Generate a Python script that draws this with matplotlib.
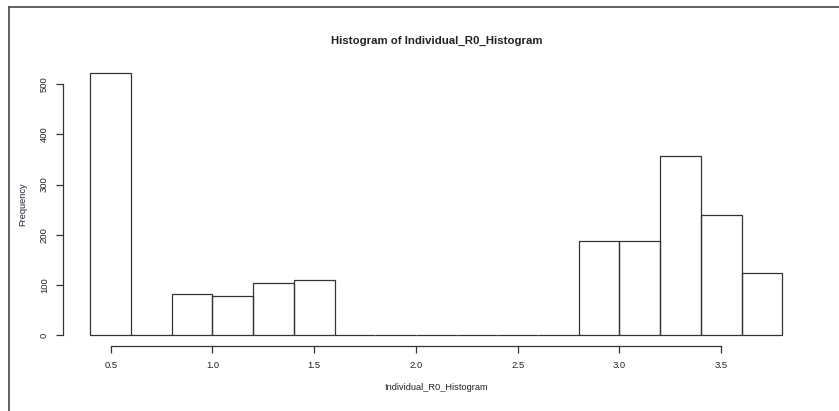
import numpy as np
import matplotlib
matplotlib.use('Agg')
import matplotlib.pyplot as plt
from matplotlib.lines import Line2D

plt.rcParams['font.family'] = ['Liberation Sans', 'DejaVu Sans']

# Histogram data (bin edges, counts)
bin_edges = [0.4, 0.6, 0.8, 1.0, 1.2, 1.4, 1.6, 1.8, 2.0, 2.2, 2.4, 2.6, 2.8,
             3.0, 3.2, 3.4, 3.6, 3.8]
counts = [522, 0, 82, 79, 104, 111, 0, 0, 0, 0, 0, 0, 188, 187, 356, 240, 125]
x_ticks = [0.5, 1.0, 1.5, 2.0, 2.5, 3.0, 3.5]
y_ticks = [0, 100, 200, 300, 400, 500]
title = 'Histogram of Individual_R0_Histogram'
xlabel = 'Individual_R0_Histogram'
ylabel = 'Frequency'

col = '#333333'
fig = plt.figure(figsize=(8.39, 4.11), dpi=100)
ax = fig.add_axes([0.0747, 0.1582, 0.8907, 0.69])

left = np.array(bin_edges[:-1])
widths = np.diff(bin_edges)
ax.bar(left, counts, width=widths, align='edge', fill=False,
       edgecolor=col, linewidth=0.9)

# R style axis limits (4% extension)
span = bin_edges[-1] - bin_edges[0]
ax.set_xlim(bin_edges[0] - 0.04 * span, bin_edges[-1] + 0.04 * span)
ymax = max(counts)
ax.set_ylim(-0.04 * ymax, ymax * 1.04)

for s in ['top', 'right']:
    ax.spines[s].set_visible(False)
ax.spines['left'].set_bounds(y_ticks[0], y_ticks[-1])
ax.spines['bottom'].set_bounds(x_ticks[0], x_ticks[-1])
for s in ['left', 'bottom']:
    ax.spines[s].set_color(col)
    ax.spines[s].set_linewidth(0.9)

ax.set_xticks(x_ticks)
ax.set_xticklabels([f'{v:.1f}' for v in x_ticks])
ax.set_yticks(y_ticks)
ax.set_yticklabels([str(v) for v in y_ticks], rotation=90, va='center')
ax.tick_params(axis='both', length=5, width=0.9, color=col, labelcolor='#222222',
               labelsize=6.8)
ax.tick_params(axis='x', pad=5.5)
ax.tick_params(axis='y', pad=5)

ax.set_xlabel(xlabel, fontsize=6.7, color='#222222')
ax.xaxis.set_label_coords(0.5, -0.130)
ax.set_ylabel(ylabel, fontsize=6.7, color='#222233')
ax.yaxis.set_label_coords(-0.0474, 0.5)
ax.text(0.5, 1.076, title, transform=ax.transAxes, ha='center', va='center',
        fontsize=8.2, fontweight='bold', color='#222222')

# screenshot frame lines (top and left)
fig.add_artist(Line2D([8.5 / 839, 1], [1 - 7 / 411, 1 - 7 / 411],
                      transform=fig.transFigure, color='#555555', linewidth=1.3))
fig.add_artist(Line2D([8.5 / 839, 8.5 / 839], [0, 1 - 7 / 411],
                      transform=fig.transFigure, color='#555555', linewidth=1.3))

plt.savefig('out.png', dpi=100)
